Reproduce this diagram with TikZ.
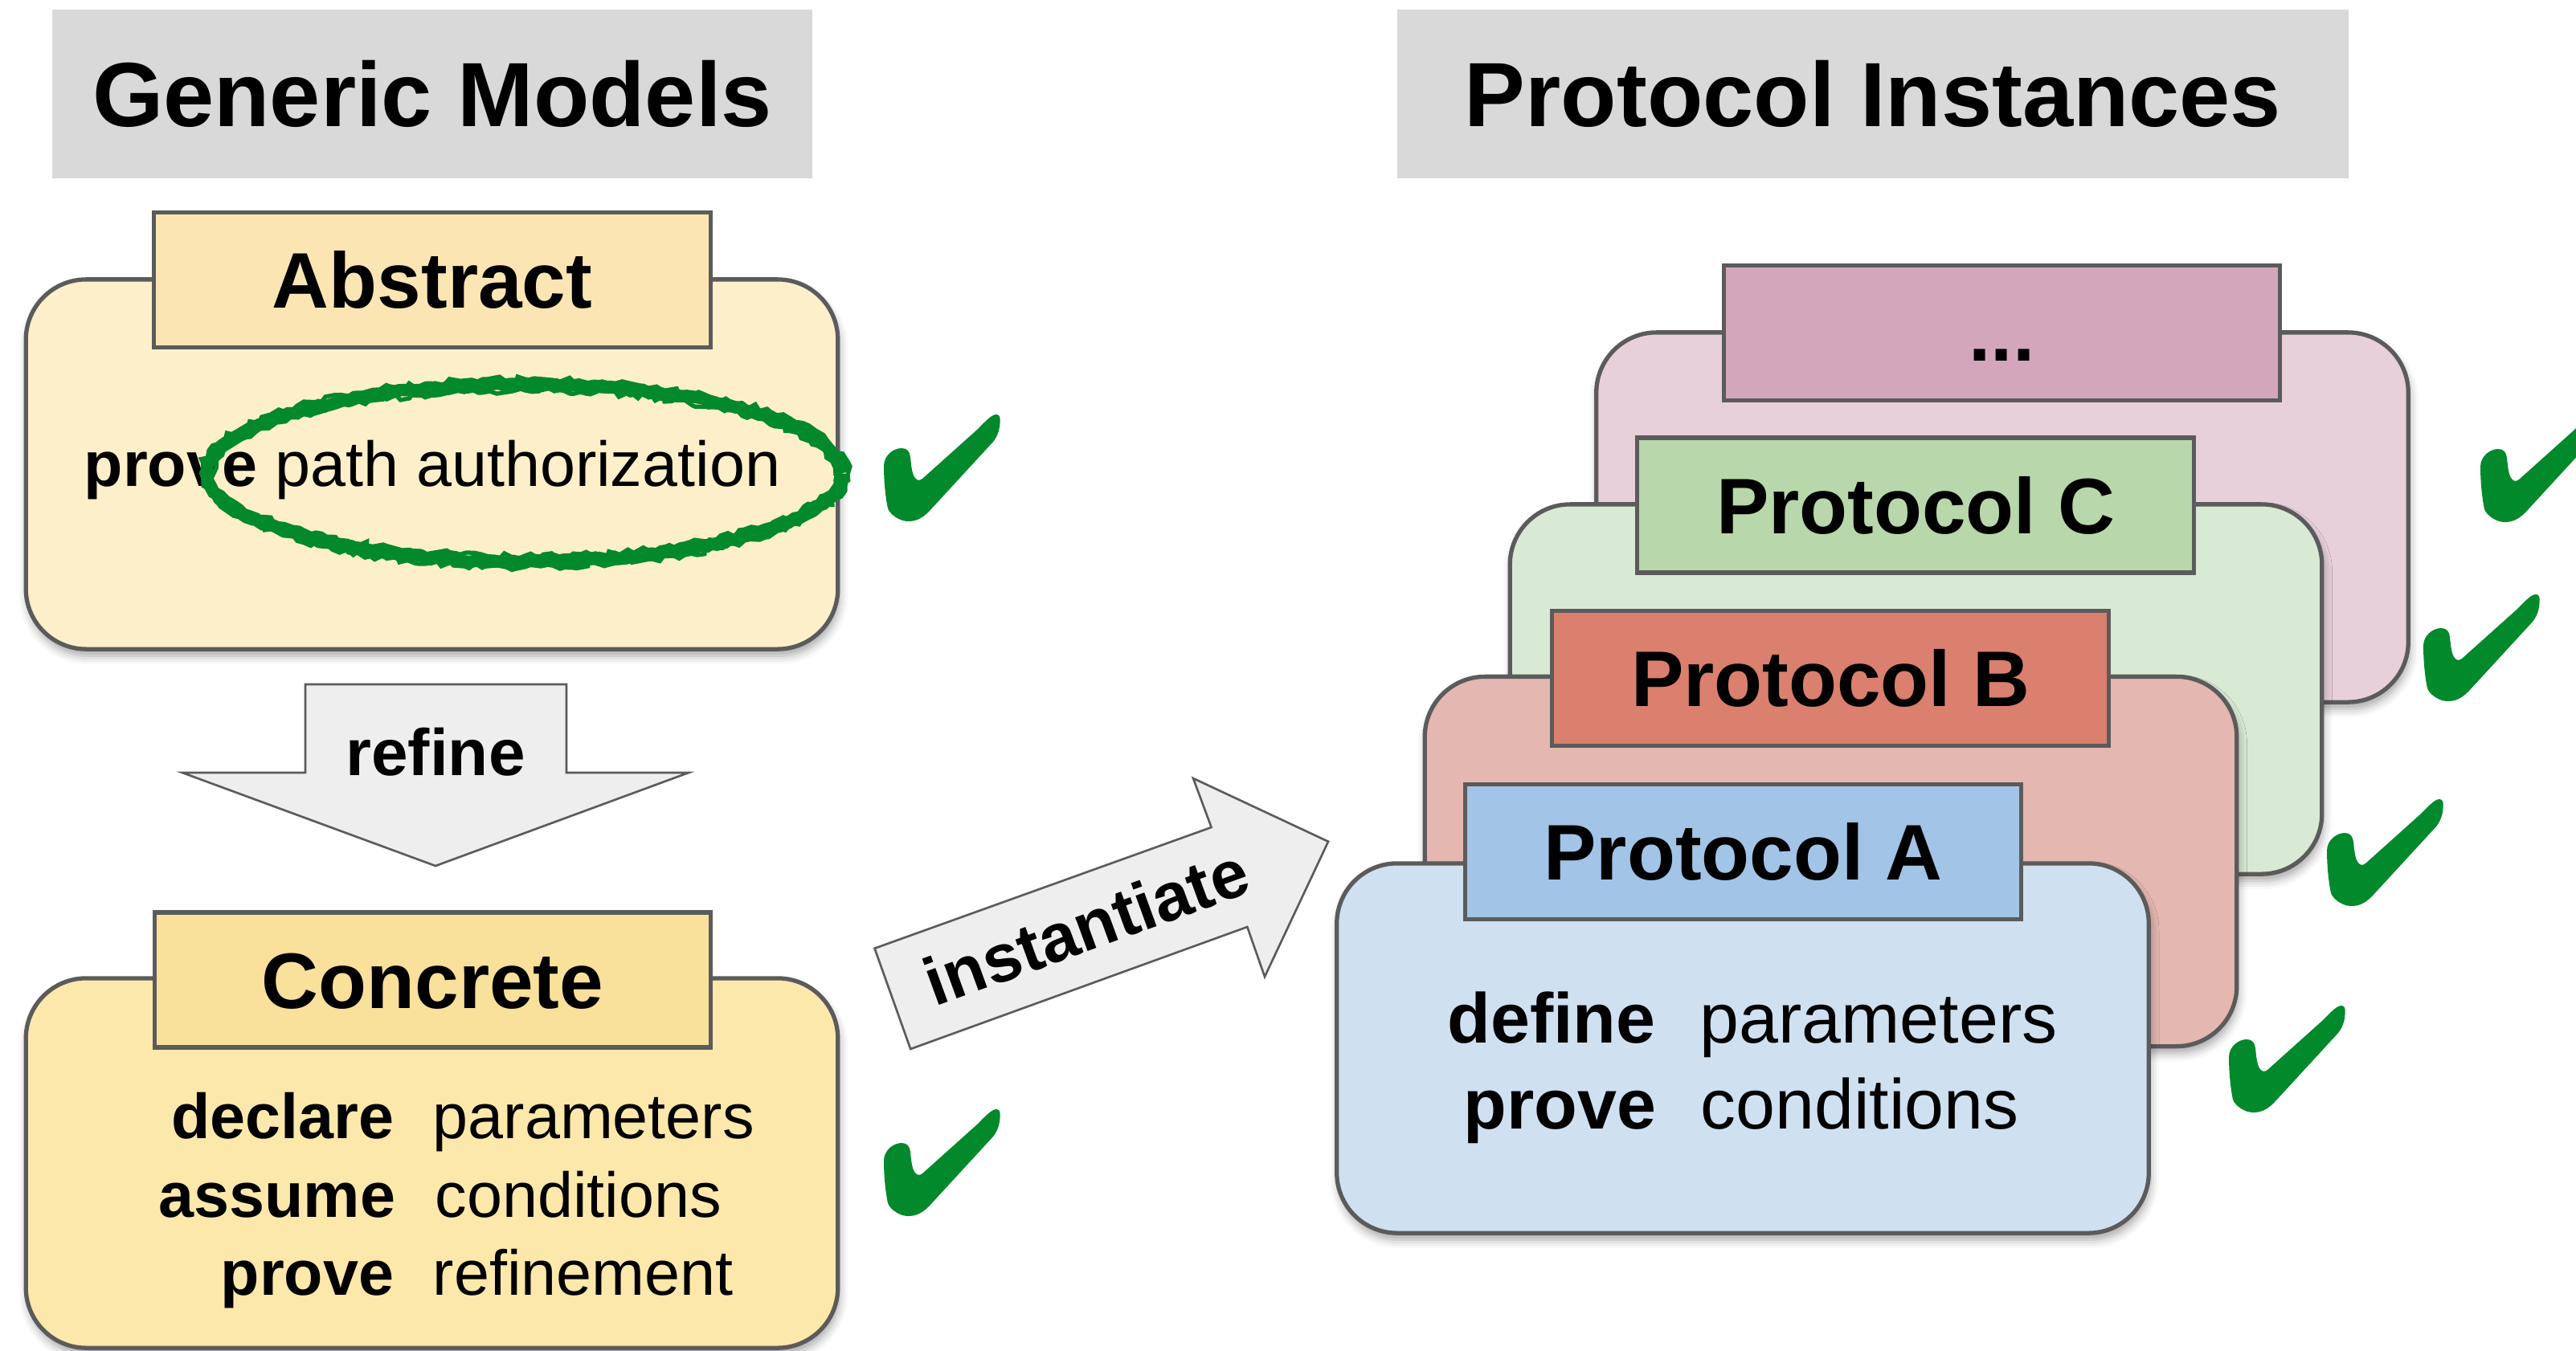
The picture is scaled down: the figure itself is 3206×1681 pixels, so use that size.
\documentclass[tikz,border=0pt]{standalone}
\usepackage{fontspec}
\setmainfont{Liberation Sans}
\usetikzlibrary{decorations.pathmorphing,shadows.blur}

\definecolor{edge}{HTML}{5B5B5B}
\definecolor{hdrgray}{HTML}{D9D9D9}
\definecolor{arrfill}{HTML}{EEEEEE}
\definecolor{okgreen}{HTML}{02892C}
\definecolor{absbody}{HTML}{FDEFC9}
\definecolor{abstab}{HTML}{FBE6B3}
\definecolor{conbody}{HTML}{FDE8AC}
\definecolor{contab}{HTML}{F9E09B}
\definecolor{abody}{HTML}{CFE0F1}
\definecolor{atab}{HTML}{A2C4E6}
\definecolor{bbody}{HTML}{E4B7B0}
\definecolor{btab}{HTML}{DB7F6E}
\definecolor{cbody}{HTML}{D9EAD4}
\definecolor{ctab}{HTML}{B8D7AA}
\definecolor{dbody}{HTML}{E8D0DB}
\definecolor{dtab}{HTML}{D4A6BB}

\newcommand\hdrfont{\fontsize{32.3pt}{38pt}\selectfont\bfseries}
\newcommand\ttlfont{\fontsize{27.9pt}{33pt}\selectfont\bfseries}
\newcommand\txtfont{\fontsize{22.5pt}{27pt}\selectfont}
\newcommand\ptxtfont{\fontsize{25pt}{30pt}\selectfont}
\newcommand\arrfont{\fontsize{23.3pt}{28pt}\selectfont\bfseries}
\newcommand\instfont{\fontsize{24pt}{29pt}\selectfont\bfseries}

\tikzset{
  panel/.style={draw=edge, line width=1.5pt, rounded corners=0.75cm,
    minimum width=10.1cm, minimum height=4.6cm, inner sep=0pt,
    blur shadow={shadow xshift=0.6pt, shadow yshift=-2.4pt,
      shadow blur radius=3pt, shadow opacity=35}},
  tabbox/.style={draw=edge, line width=1.5pt, minimum width=6.92cm,
    minimum height=1.68cm, inner sep=0pt, font=\ttlfont,
    text height=20pt, text depth=0pt},
  hdr/.style={fill=hdrgray, inner sep=0pt, minimum height=2.1cm,
    font=\hdrfont, text height=23.1pt, text depth=0pt},
  blockarrow/.style={draw=edge, line width=0.75pt, fill=arrfill, line join=miter},
  lbl/.style={inner sep=0pt},
  rough/.style={decorate, decoration={random steps, segment length=2.2pt, amplitude=#1}},
  okmark/.pic={
    \fill[okgreen, yscale=-1] (0,0) .. controls (-10,0) and (-22,8) .. (-25,16)
      .. controls (-28,30) and (-30,50) .. (-30,69)
      .. controls (-30,82) and (-18,91) .. (-8,91)
      .. controls (-1,91) and (2,87) .. (3,80)
      .. controls (4,70) and (5,58) .. (9,54)
      .. controls (11,51) and (14,50) .. (18,53)
      -- (86,114)
      .. controls (96,124) and (104,133) .. (110,133)
      .. controls (115,133) and (115,128) .. (114.5,122)
      .. controls (114,112) and (110,104) .. (106,99)
      -- (26,12) .. controls (16,2) and (8,0) .. (0,0) -- cycle;
  }
}

\begin{document}
\begin{tikzpicture}[x=0.01cm, y=-0.01cm]
\useasboundingbox (0,0) rectangle (3206,1681);
\clip (0,0) rectangle (3206,1681);

% column headers
\node[hdr, minimum width=9.46cm] (hdrGeneric) at (538,117) {Generic Models};
\node[hdr, minimum width=11.83cm] (hdrInst) at (2331,117) {Protocol Instances};

% abstract model
\node[panel, fill=absbody] (absP) at (537.5,578) {};
\node[tabbox, fill=abstab] (absT) at (538,348.5) {Abstract};
\node[lbl, anchor=base, font=\txtfont] (absTxt) at (538,605) {\textbf{prove} path authorization};
% hand-drawn marker ring round the proved property
\begin{scope}[okgreen]
  \draw[line width=4.4pt, rough=0.6pt] (653,589) ellipse [x radius=394, y radius=110];
  \draw[line width=1.5pt, rough=1.1pt] (653,589) ellipse [x radius=402, y radius=117];
  \draw[line width=1.5pt, rough=1.1pt] (653,589) ellipse [x radius=386, y radius=103];
\end{scope}

% refinement arrow
\draw[blockarrow] (380,852) -- (705,852) -- (705,962) -- (857,962) -- (542,1078)
  -- (227,962) -- (380,962) -- cycle;
\node[lbl, anchor=base, font=\arrfont] (refTxt) at (542,965) {refine};

% concrete model
\node[panel, fill=conbody] (conP) at (537.5,1448) {};
\node[tabbox, fill=contab] (conT) at (538.5,1220) {Concrete};
\node[lbl, anchor=base east, font=\txtfont\bfseries] (cK1) at (491,1417) {declare};
\node[lbl, anchor=base west, font=\txtfont] (cV1) at (538,1417) {parameters};
\node[lbl, anchor=base east, font=\txtfont\bfseries] (cK2) at (493,1515) {assume};
\node[lbl, anchor=base west, font=\txtfont] (cV2) at (541,1515) {conditions};
\node[lbl, anchor=base east, font=\txtfont\bfseries] (cK3) at (491,1612) {prove};
\node[lbl, anchor=base west, font=\txtfont] (cV3) at (538,1612) {refinement};

% instantiation arrow
\draw[blockarrow] (1133.2,1306) -- (1088.5,1180.7) -- (1507.6,1030) -- (1485,969)
  -- (1653.1,1047.7) -- (1574,1216) -- (1552.3,1154) -- cycle;
\node[lbl, anchor=base west, rotate=20, font=\instfont] (instTxt) at (1163,1254) {instantiate};

% stack of protocol instances, back to front
\node[panel, fill=dbody] (dP) at (2492,644) {};
\node[tabbox, fill=dtab] (dT) at (2491.5,414.5) {...};
\node[panel, fill=cbody] (cP) at (2384.5,858) {};
\node[tabbox, fill=ctab] (cT) at (2384,629) {Protocol C};
\node[panel, fill=bbody] (bP) at (2278.5,1072.5) {};
\node[tabbox, fill=btab] (bT) at (2278,844.5) {Protocol B};
\node[panel, fill=abody] (aP) at (2169,1305) {};
\node[tabbox, fill=atab] (aT) at (2169.5,1060.5) {Protocol A};
\node[lbl, anchor=base east, font=\ptxtfont\bfseries] (aK1) at (2061,1298) {define};
\node[lbl, anchor=base west, font=\ptxtfont] (aV1) at (2115,1298) {parameters};
\node[lbl, anchor=base east, font=\ptxtfont\bfseries] (aK2) at (2062,1405) {prove};
\node[lbl, anchor=base west, font=\ptxtfont] (aV2) at (2116,1405) {conditions};

% verified marks
\pic at (1130,649) {okmark};
\pic at (1130,1514) {okmark};
\pic at (2804,1385) {okmark};
\pic at (2926,1128) {okmark};
\pic at (3046,873) {okmark};
\pic at (3117,650) {okmark};
\end{tikzpicture}
\end{document}
